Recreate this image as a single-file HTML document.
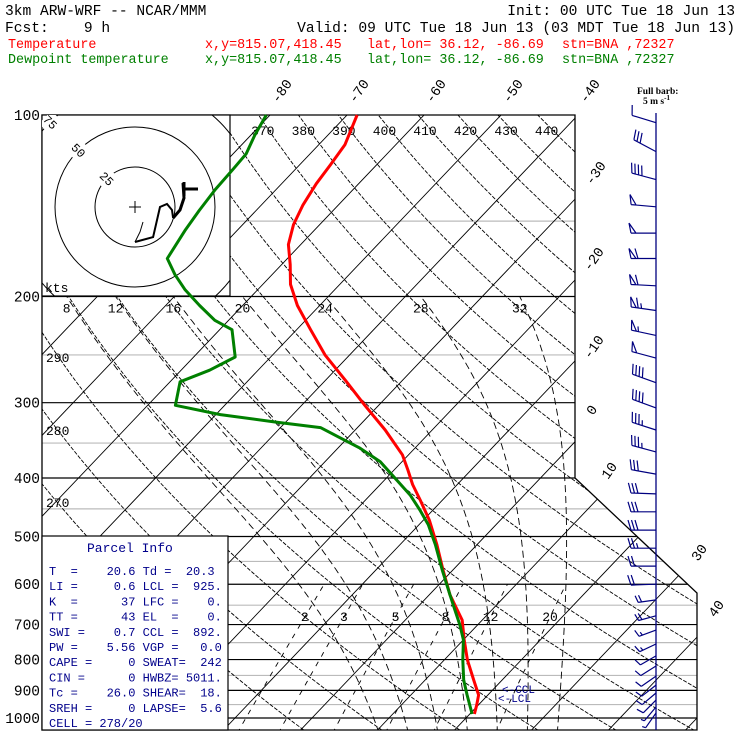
<!DOCTYPE html>
<html><head><meta charset="utf-8"><style>
html,body{margin:0;padding:0;background:#fff;width:740px;height:740px;overflow:hidden}
svg{display:block}
text{font-family:"Liberation Mono",monospace;white-space:pre}
</style></head><body>
<svg id="chart" width="740" height="740" viewBox="0 0 740 740" xmlns="http://www.w3.org/2000/svg">
<defs>
<clipPath id="plotclip"><path d="M42,115 L575,115 L575,478 L697,593 L697,730 L42,730 Z"/></clipPath>
<clipPath id="hodoclip"><rect x="42" y="115" width="188" height="181"/></clipPath>
</defs>
<g>
<text x="5" y="15" font-size="14.6" fill="#000">3km ARW-WRF -- NCAR/MMM</text>
<text x="735" y="15" font-size="14.6" fill="#000" text-anchor="end">Init: 00 UTC Tue 18 Jun 13</text>
<text x="5" y="32" font-size="14.6" fill="#000" style="white-space:pre">Fcst:    9 h</text>
<text x="735" y="32" font-size="14.6" fill="#000" text-anchor="end">Valid: 09 UTC Tue 18 Jun 13 (03 MDT Tue 18 Jun 13)</text>
<g fill="#ff0000" font-size="13.4">
<text x="8" y="48">Temperature</text><text x="205" y="48">x,y=815.07,418.45</text><text x="367" y="48">lat,lon= 36.12, -86.69</text><text x="562" y="48">stn=BNA ,72327</text></g>
<g fill="#008000" font-size="13.4">
<text x="8" y="63">Dewpoint temperature</text><text x="205" y="63">x,y=815.07,418.45</text><text x="367" y="63">lat,lon= 36.12, -86.69</text><text x="562" y="63">stn=BNA ,72327</text></g>
</g>
<g id="grid" clip-path="url(#plotclip)"></g>
<g id="labels"></g>
<path d="M42,115 L575,115 L575,478 L697,593 L697,730 L42,730 Z" fill="none" stroke="#000" stroke-width="1.3"/>
<g id="hodo">
<rect x="42" y="115" width="188" height="181" fill="#fff" stroke="#000" stroke-width="1.2"/>
</g>
<g id="parcel">
<rect x="42" y="536" width="186" height="194" fill="#fff" stroke="#000" stroke-width="1.2"/>
</g>
<g id="profiles"></g>
<g id="barbs"></g>
<g font-weight="bold" font-size="9.5" fill="#000">
<text x="637" y="94" style="font-family:'Liberation Serif',serif">Full barb:</text>
<text x="643" y="104" style="font-family:'Liberation Serif',serif">5 m s<tspan dy="-4" font-size="7">-1</tspan></text>
</g>
</svg>
<script>
// ---------- data ----------
const tempP = [100,112,121,130,141,152,164,177,191,207,227,250,275,303,333,366,388,410,435,470,516,568,625,688,742,801,865,916,952,985];
const tempT = [-68.7,-66.6,-66,-65.5,-64.6,-63.4,-61.6,-58.9,-56.4,-52.9,-48.2,-43.2,-37.5,-31.8,-26.1,-20.8,-18.2,-15.8,-12.9,-9.2,-5.2,-1.3,2.7,7.4,10.1,13,16.3,18.8,19.8,20.6];
const dewP = [100,108,116,123,133,144,155,173,184,195,207,219,227,252,265,277,303,314,323,330,343,357,376,400,427,452,478,516,568,625,662,701,742,801,865,916,985];
const dewT = [-80.5,-79.5,-78.3,-78.1,-77.9,-77.4,-76.8,-75.6,-72.6,-69.4,-65.6,-61.8,-58.4,-54.6,-56.3,-58.7,-56.4,-49.4,-41.4,-34.8,-31,-27.1,-22.8,-18.9,-14.8,-11.7,-8.8,-5.4,-1.4,2.7,5.2,7.7,10,12.4,15,17.3,20.3];
const barbP = [103,115,128,142,157,173,192,211,232,253,278,306,333,362,394,425,455,488,523,560,600,637,677,715,754,789,820,852,882,909,934,959,981];
const barbSpd = [5,15,20,27,27,32,32,33,28,25,20,20,18,18,17,16,15,15,13,12,12,10,10,9,8,7,7,6,6,5,5,4,3];
const barbDir = [287,298,285,275,270,270,273,278,282,285,290,290,288,285,280,272,270,270,270,270,268,262,255,250,245,240,238,235,232,230,225,220,215];
const hodoU = [5,3.1,0,11.3,15.6,20,23.1,23.8,28.1,30.6,30];
const hodoV = [-9.4,-15.6,-21.9,-18.8,0,1.9,-1.9,-6.9,-1.9,5.6,15];
const isoTemps = [-120,-110,-100,-90,-80,-70,-60,-50,-40,-30,-20,-10,0,10,20,30,40,50];
const thetaVals = [250,260,270,280,290,300,310,320,330,340,350,360,370,380,390,400,410,420,430,440,450,460,470];
const moistVals = [8,12,16,20,24,28,32];
const mixVals = [2,3,5,8,12,20];
const pLevels = [100,200,300,400,500,600,700,800,900,1000];
const pMinor = [150,250,350,450,550,650,750,850,950];
const topTLabels = [-80,-70,-60,-50,-40];
const sideTLabels = [-30,-20,-10,0,10,30,40];
// ---------- axes ----------
const Y0=718, K=261.9;
function yP(p){return Y0-K*Math.log(1000/p);}
function xT(T,p){return 466+7.7*(T-20)+0.952*(Y0-yP(p));}
const NS='http://www.w3.org/2000/svg';
function mk(tag,attrs,parent){const e=document.createElementNS(NS,tag);for(const k in attrs)e.setAttribute(k,attrs[k]);parent.appendChild(e);return e;}
const grid=document.getElementById('grid'), labels=document.getElementById('labels');
function pathFrom(pts){return 'M'+pts.map(q=>q[0].toFixed(1)+','+q[1].toFixed(1)).join(' L');}
pMinor.forEach(p=>{const l=mk('line',{x1:42,x2:700,y1:yP(p),y2:yP(p),stroke:'#bbb','stroke-width':1.2},grid);

});
pLevels.forEach(p=>{const l=mk('line',{x1:42,x2:700,y1:yP(p),y2:yP(p),stroke:'#000','stroke-width':1.2},grid);


const t=mk('text',{x:40,y:yP(p)+5,'font-size':14.5,'text-anchor':'end',fill:'#000'},labels);t.textContent=p;

});
isoTemps.forEach(T=>{const l=mk('line',{x1:xT(T,1060),y1:yP(1060),x2:xT(T,95),y2:yP(95),stroke:'#000','stroke-width':0.9},grid);

});
thetaVals.forEach(th=>{const pts=[];for(let p=1060;p>=95;p-=10){const T=th*Math.pow(p/1000,0.2857)-273.15;pts.push([xT(T,p),yP(p)]);}
const e=mk('path',{d:pathFrom(pts),fill:'none',stroke:'#000','stroke-width':0.9,'stroke-dasharray':'4,1.5'},grid);

});
function es(Tc){return 6.112*Math.exp(17.67*Tc/(Tc+243.5));}
function dTdp(T,p){const Tc=T-273.15;const e=es(Tc);const rs=0.622*e/(p-e);const Rd=287,cp=1004,Lv=2.5e6;
return (Rd*T+Lv*rs)/(p*(cp+Lv*Lv*rs*0.622/(Rd*T*T)));}
moistVals.forEach(tw=>{let T=tw+273.15,pts=[];let up=[];for(let p=1000;p>=200;p-=2){up.push([xT(T-273.15,p),yP(p)]);T+=dTdp(T,p)*(-2);}
T=tw+273.15;let dn=[];for(let p=1000;p<=1060;p+=2){dn.push([xT(T-273.15,p),yP(p)]);T+=dTdp(T,p)*2;}
pts=dn.reverse().concat(up);
const e=mk('path',{d:pathFrom(pts),fill:'none',stroke:'#000','stroke-width':0.9,'stroke-dasharray':'7,4'},grid);


const last=up[up.length-1];const t=mk('text',{x:last[0],y:last[1]+16,'font-size':13,'text-anchor':'middle',fill:'#000'},labels);t.textContent=tw;

});
function tdFromW(w,p){const e=w*p/(622+w);const l=Math.log(e/6.112);return 243.5*l/(17.67-l);}
mixVals.forEach(w=>{const pts=[];for(let p=1060;p>=600;p-=10){pts.push([xT(tdFromW(w,p),p),yP(p)]);}
const e=mk('path',{d:pathFrom(pts),fill:'none',stroke:'#000','stroke-width':0.9,'stroke-dasharray':'5,6'},grid);


const t=mk('text',{x:xT(tdFromW(w,680),680),y:yP(680)+4,'font-size':13,'text-anchor':'middle',fill:'#000'},labels);t.textContent=w;

});
[370,380,390,400,410,420,430,440].forEach(th=>{const p=106;const T=th*Math.pow(p/1000,0.2857)-273.15;
const t=mk('text',{x:xT(T,p)-6,y:135,'font-size':13,'text-anchor':'middle',fill:'#000'},labels);t.textContent=th;

});
[[290,362],[280,435],[270,507]].forEach(a=>{const t=mk('text',{x:46,y:a[1],'font-size':13,fill:'#000'},labels);t.textContent=a[0];

});
topTLabels.forEach(T=>{const x=xT(T,100)+8;const t=mk('text',{x:x,y:104,'font-size':14,fill:'#000',transform:'rotate(-55 '+x+' 104)'},labels);t.textContent=T;

});
const sidePos=[[592,186],[590,272],[590,360],[593,416],[608,480],[698,562],[715,618]];
sideTLabels.forEach((T,i)=>{const x=sidePos[i][0],y=sidePos[i][1];
const t=mk('text',{x:x,y:y,'font-size':14,fill:'#000',transform:'rotate(-55 '+x+' '+y+')'},labels);t.textContent=T;

});
// hodograph
const hodo=document.getElementById('hodo');const HC=[135,207],HS=1.6;
const hg=mk('g',{'clip-path':'url(#hodoclip)'},hodo);
[25,50,75].forEach(r=>{const c=mk('circle',{cx:HC[0],cy:HC[1],r:r*HS,fill:'none',stroke:'#000','stroke-width':1},hg);


const lx=HC[0]-r*HS*0.707,ly=HC[1]-r*HS*0.707;
mk('rect',{x:lx-9,y:ly-7,width:18,height:14,fill:'#fff',transform:'rotate(-45 '+lx+' '+ly+')'},hg);
const t=mk('text',{x:lx,y:ly+4,'font-size':12,'text-anchor':'middle',fill:'#000',transform:'rotate(45 '+lx+' '+ly+')'},hg);t.textContent=r;

});
mk('path',{d:'M129,207 H141 M135,201 V213',stroke:'#000','stroke-width':1},hodo);
function hx(u){return HC[0]+u*HS;} function hy(v){return HC[1]-v*HS;}
const hpts=hodoU.map((u,i)=>[hx(u),hy(hodoV[i])]);
const h1=mk('path',{d:pathFrom(hpts.slice(0,3)),fill:'none',stroke:'#000','stroke-width':1},hodo);


const h2=mk('path',{d:pathFrom(hpts.slice(2,8)),fill:'none',stroke:'#000','stroke-width':2},hodo);


const h3=mk('path',{d:pathFrom(hpts.slice(7)),fill:'none',stroke:'#000','stroke-width':3},hodo);


mk('path',{d:'M183,189 H198 M184,182 V196',stroke:'#000','stroke-width':3,fill:'none'},hodo);
const kt=mk('text',{x:45,y:292,'font-size':13,fill:'#000'},hodo);kt.textContent='kts';
// parcel info
const parcel=document.getElementById('parcel');
const rows=["T  =    20.6 Td =  20.3","LI =     0.6 LCL =  925.","K  =      37 LFC =    0.","TT =      43 EL  =    0.","SWI =    0.7 CCL =  892.","PW =    5.56 VGP =   0.0","CAPE =     0 SWEAT=  242","CIN =      0 HWBZ= 5011.","Tc =    26.0 SHEAR=  18.","SREH =     0 LAPSE=  5.6","CELL = 278/20"];
const ph=mk('text',{x:87,y:552,'font-size':13,fill:'#00008b'},parcel);ph.textContent='Parcel Info';


rows.forEach((r,i)=>{const t=mk('text',{x:49,y:575+i*15.2,'font-size':12,fill:'#00008b',style:'white-space:pre'},parcel);t.textContent=r;

});
// profiles
const prof=document.getElementById('profiles');
const tline=mk('path',{d:pathFrom(tempP.map((p,i)=>[xT(tempT[i],p),yP(p)])),fill:'none',stroke:'#ff0000','stroke-width':3,'stroke-linejoin':'round'},prof);


const dline=mk('path',{d:pathFrom(dewP.map((p,i)=>[xT(dewT[i],p),yP(p)])),fill:'none',stroke:'#008000','stroke-width':3,'stroke-linejoin':'round'},prof);


[['<-CCL',502,693],['<-LCL',498,702]].forEach(a=>{const t=mk('text',{x:a[1],y:a[2],'font-size':11,fill:'#00008b'},prof);t.textContent=a[0];

});
// wind barbs
const barbs=document.getElementById('barbs');const SX=656;
const st=mk('line',{x1:SX,y1:113,x2:SX,y2:730,stroke:'#000080','stroke-width':1.3},barbs);


barbP.forEach((p,i)=>{const y=yP(p);const a=barbDir[i]*Math.PI/180;const vx=Math.sin(a),vy=-Math.cos(a);
const L=p>620?18:25;const tx=SX+vx*L,ty=y+vy*L;const px=-vy,py=vx;
let d='M'+SX+','+y.toFixed(1)+' L'+tx.toFixed(1)+','+ty.toFixed(1);
let s=barbSpd[i],pos=0;const g=p>620?0.7:1;
while(s>=25){const bx=tx-vx*pos,by=ty-vy*pos;d+=' M'+bx.toFixed(1)+','+by.toFixed(1)+' L'+(bx+px*10*g+vx*2).toFixed(1)+','+(by+py*10*g+vy*2).toFixed(1)+' L'+(bx-vx*5).toFixed(1)+','+(by-vy*5).toFixed(1);pos+=7;s-=25;}
while(s>=5){const bx=tx-vx*pos,by=ty-vy*pos;d+=' M'+bx.toFixed(1)+','+by.toFixed(1)+' l'+((px*10+vx*3)*g).toFixed(1)+','+((py*10+vy*3)*g).toFixed(1);pos+=3.5;s-=5;}
if(s>=2.5){const bx=tx-vx*pos,by=ty-vy*pos;d+=' M'+bx.toFixed(1)+','+by.toFixed(1)+' l'+((px*5+vx*1.5)*g).toFixed(1)+','+((py*5+vy*1.5)*g).toFixed(1);}
const e=mk('path',{d:d,fill:'none',stroke:'#000080','stroke-width':1.2},barbs);

});
</script>
</body></html>
